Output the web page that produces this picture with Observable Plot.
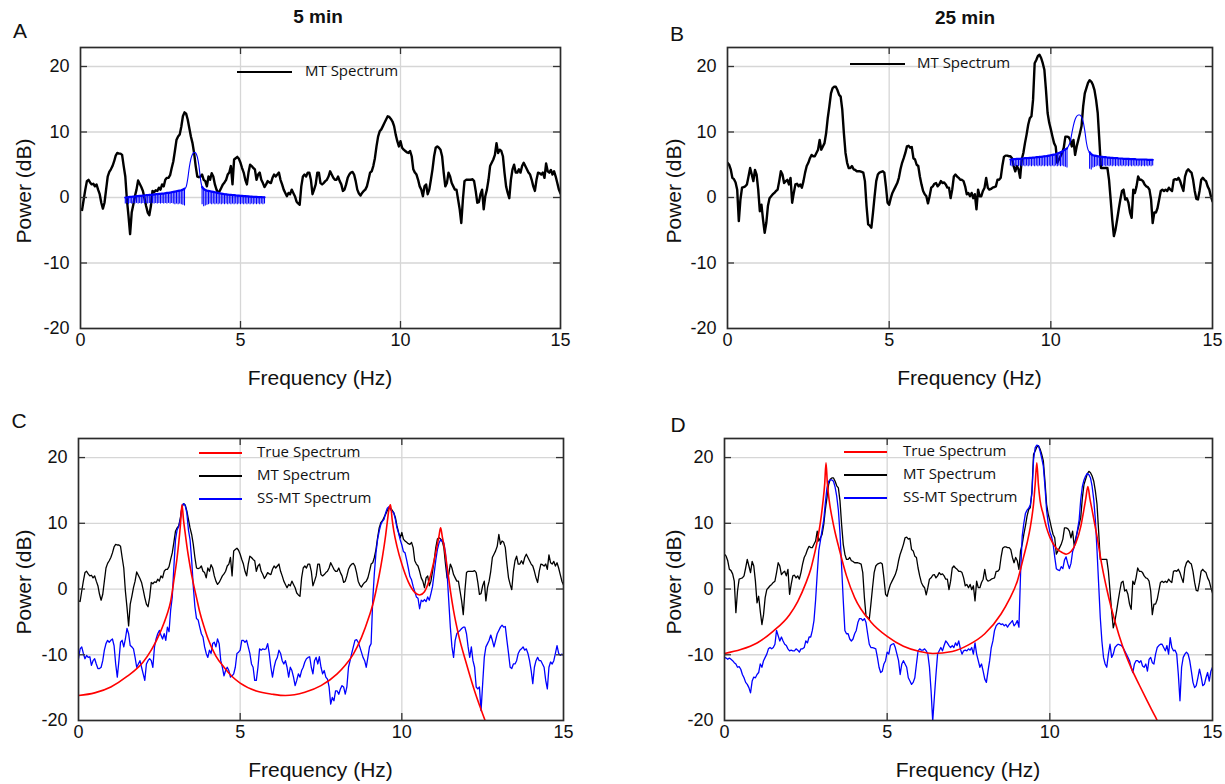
<!DOCTYPE html>
<html><head><meta charset="utf-8">
<script src="https://cdn.jsdelivr.net/npm/d3@7"></script>
<script src="https://cdn.jsdelivr.net/npm/@observablehq/plot@0.6"></script>
<style>
html,body{margin:0;padding:0;background:#fff;}
body{width:1225px;height:784px;position:relative;overflow:hidden;font-family:"Liberation Sans",Arial,sans-serif;color:#111;}
.abs{position:absolute;}
.title{font-weight:bold;font-size:19px;transform:translate(-50%,-50%);white-space:nowrap;}
.letter{font-size:21px;transform:translate(-50%,-50%);}
.xlab{font-size:21px;transform:translate(-50%,-50%);white-space:nowrap;}
.ylab{font-size:21px;transform:translate(-50%,-50%) rotate(-90deg);white-space:nowrap;}
.leg{font-family:"Liberation Sans Narrow","Open Sans",sans-serif;font-size:15px;transform:translateY(-50%);white-space:nowrap;color:#111;}
</style></head><body>
<script>
// ---------- data ----------
const xTicks = [0, 5, 10, 15];
const yTicks = [-20, -10, 0, 10, 20];
const freqGrid = d3.range(0, 1501, 5).map(d => d / 100); // 0..15 Hz, 0.05 Hz bins

// MT spectrum, 5 min (panels A and C)
const mt5 = [
-1.8,-1.9,-0.3,1.2,2.5,2.7,2.3,2.0,2.1,1.7,2.0,1.2,0.5,-0.8,-1.7,-0.8,1.2,3.2,3.9,4.3,
4.8,5.5,6.4,6.8,6.7,6.7,6.5,4.8,3.2,-0.3,-2.8,-5.6,-2.3,-1.1,0.2,1.2,2.6,2.1,1.6,1.0,
-0.1,-1.3,-2.3,-2.7,-1.3,1.0,0.8,1.1,1.0,1.5,1.2,2.0,1.7,2.7,3.0,3.0,3.4,4.5,5.5,7.1,
8.8,9.3,9.6,10.8,12.4,13.0,12.8,11.9,10.6,9.3,8.3,6.8,4.8,3.2,3.1,3.2,3.5,2.7,2.5,1.7,
3.2,2.7,3.7,3.2,2.0,1.2,0.7,1.0,1.5,2.0,2.3,2.7,3.5,3.8,4.8,2.0,5.8,6.0,6.2,5.9,
5.3,4.5,3.8,2.7,2.0,3.8,5.0,4.8,4.5,4.3,2.7,3.5,3.8,2.7,2.2,1.6,2.0,2.5,2.3,2.2,
3.0,3.5,3.2,3.5,3.8,2.7,2.0,1.2,0.7,0.2,0.7,0.5,1.2,0.7,0.2,-0.6,-0.9,-1.1,1.7,3.2,
3.5,3.2,3.8,3.8,2.7,0.5,1.2,2.0,3.8,3.8,2.2,2.0,2.2,2.5,2.7,3.2,4.0,3.5,3.0,2.7,
2.7,3.2,2.5,2.0,1.0,1.2,2.0,3.0,3.5,3.8,3.9,3.5,2.5,1.2,0.6,0.3,0.7,1.0,1.2,1.7,
2.7,3.8,4.0,4.8,6.0,7.8,9.3,10.1,10.4,10.9,11.4,11.9,12.4,12.3,12.0,11.6,10.9,9.6,8.6,7.8,
8.6,7.6,7.3,7.1,6.9,6.8,7.1,6.3,4.3,3.8,3.5,2.7,1.7,1.2,0.2,1.7,2.0,0.5,1.2,2.7,
4.3,6.3,7.6,7.8,7.6,7.3,6.3,3.8,1.7,2.2,3.8,3.2,2.2,1.7,1.2,1.2,-0.3,-1.8,-3.9,-0.3,
2.5,2.7,2.7,2.7,2.7,2.8,2.5,1.0,-0.8,-0.7,0.5,1.2,-1.8,0.2,1.2,2.7,4.8,5.3,5.8,6.5,
8.3,6.8,7.3,7.1,6.3,3.8,1.7,0.7,-0.1,2.7,4.3,5.0,3.8,3.8,4.3,3.8,4.8,5.3,4.8,4.3,
3.8,3.5,2.7,1.7,1.0,2.7,3.8,3.7,3.5,3.8,3.0,5.2,4.0,3.8,4.2,3.5,4.0,3.2,2.2,1.2,
0.6];

// MT spectrum, 25 min (panels B and D)
const mt25 = [
5.3,5.0,4.3,3.0,2.8,2.3,1.2,-3.6,-0.3,1.5,1.6,1.7,2.0,3.2,4.5,3.5,2.5,4.2,3.5,1.2,
-2.1,-1.1,-3.4,-5.4,-3.9,-1.3,-0.1,0.2,0.5,0.7,1.0,1.2,2.5,4.0,3.5,2.2,2.5,2.7,2.0,3.0,
-0.8,0.7,2.0,2.1,1.7,2.0,1.5,2.5,3.8,4.8,5.3,6.0,6.5,6.3,6.3,6.8,7.3,8.8,7.3,7.8,
8.3,9.8,12.1,13.9,15.9,16.7,16.9,16.9,16.4,15.7,15.4,13.4,9.8,6.8,5.3,4.5,4.5,4.8,4.3,4.2,
4.0,4.0,4.0,3.9,3.8,2.5,-1.3,-4.1,-4.3,-4.6,-2.3,0.2,2.5,3.5,3.8,3.9,4.0,3.8,1.7,-0.8,
-1.1,-0.1,0.7,1.2,1.7,2.2,3.0,4.3,5.3,6.0,6.8,7.8,7.9,7.6,7.7,6.0,5.8,5.0,4.8,3.2,
2.0,1.0,0.5,0.2,-0.9,0.2,1.5,1.7,2.1,2.2,1.7,2.0,2.5,2.2,2.3,2.0,1.5,1.5,-0.1,1.2,
3.2,3.5,3.2,3.0,2.7,2.7,2.5,1.7,0.5,0.7,0.2,0.7,-0.1,0.5,-1.8,1.2,0.2,0.2,1.0,1.5,
3.0,1.5,1.2,1.3,1.5,1.6,1.7,2.7,2.7,3.0,4.8,6.2,6.4,6.4,6.3,6.3,6.0,4.8,4.0,4.8,
4.3,3.0,5.8,6.8,8.3,9.6,11.1,12.1,12.4,14.9,20.5,21.0,21.6,21.8,21.3,20.5,19.5,16.4,12.9,11.4,
10.4,9.3,8.3,7.8,5.3,5.8,6.3,6.8,7.6,9.3,9.3,9.2,8.8,7.8,8.8,6.5,7.8,8.8,9.8,10.9,
13.9,15.9,16.7,17.5,17.9,17.7,17.2,16.4,14.9,12.9,8.8,4.5,4.5,4.5,4.5,4.5,2.7,-0.3,-3.4,-5.9,
-4.9,-3.4,-1.8,-0.3,1.0,1.2,-0.3,-0.1,-0.8,-2.3,-3.1,1.2,0.7,1.7,3.2,2.7,2.7,2.5,2.0,1.7,
1.6,1.2,-0.3,-3.9,-2.3,-2.3,-1.6,-0.3,1.0,1.2,1.0,1.2,1.0,1.5,1.2,1.0,2.7,2.8,2.7,3.0,
2.5,1.7,1.0,3.2,4.0,4.3,4.0,3.8,2.7,1.0,-0.2,-0.3,1.0,2.7,3.0,2.7,2.5,1.7,1.2,0.2,
-0.6];

// SS-MT spectrum, 5 min (panel C)
const ss5 = [
-10.6,-9.1,-8.8,-9.8,-10.6,-10.1,-10.4,-10.3,-11.6,-10.9,-10.6,-11.4,-12.1,-12.1,-11.9,-10.9,-9.3,-8.3,-7.8,-8.1,
-7.8,-7.6,-8.6,-11.4,-13.4,-10.9,-8.1,-7.8,-8.8,-7.6,-6.0,-6.8,-8.6,-8.8,-9.1,-10.4,-11.9,-11.4,-10.9,-11.9,
-12.9,-13.9,-11.4,-10.9,-10.6,-10.9,-11.9,-8.8,-7.6,-6.8,-6.3,-7.0,-7.6,-6.8,-7.8,-5.8,-6.5,-3.2,-1.2,3.4,
7.5,9.0,9.5,10.6,12.6,13.0,12.7,11.6,9.0,7.5,4.4,0.4,-2.7,-4.5,-4.7,-5.8,-6.8,-7.3,-8.8,-9.8,
-10.4,-9.3,-9.8,-8.3,-8.1,-8.8,-7.6,-8.3,-10.9,-11.9,-13.2,-12.4,-11.9,-12.4,-13.4,-13.2,-12.9,-11.9,-9.8,-9.6,
-9.3,-7.8,-7.8,-8.1,-7.8,-8.8,-9.8,-11.4,-11.9,-13.9,-13.9,-11.9,-9.1,-9.3,-9.1,-9.2,-9.1,-8.3,-9.8,-11.9,
-13.4,-11.9,-10.9,-10.4,-9.3,-9.8,-10.9,-11.4,-10.9,-11.9,-13.4,-11.9,-12.4,-13.4,-14.7,-13.9,-12.9,-13.4,-12.4,-11.9,
-11.1,-10.6,-10.4,-10.3,-11.9,-12.9,-10.9,-10.4,-11.4,-10.3,-11.9,-12.9,-12.4,-13.4,-13.7,-14.9,-17.5,-16.5,-17.0,-15.5,
-15.5,-16.0,-15.2,-14.7,-14.9,-16.0,-14.9,-11.9,-10.9,-9.8,-8.8,-7.8,-7.7,-8.1,-8.8,-9.6,-10.4,-10.9,-11.9,-10.4,
-8.8,-8.3,-1.7,2.4,5.5,7.5,8.8,9.8,10.3,10.6,11.6,12.3,12.5,12.1,11.8,11.6,10.6,9.3,8.5,7.5,
6.7,5.7,5.5,4.4,3.2,1.9,1.4,0.4,-0.4,-1.2,-1.4,-3.0,-1.7,-1.9,-1.6,-1.9,-1.2,-1.7,-0.7,0.4,
2.4,4.4,6.0,7.0,7.5,7.2,7.0,5.5,2.4,-1.7,-5.8,-8.8,-10.4,-7.8,-6.8,-6.5,-6.3,-6.0,-5.8,-5.8,
-6.8,-8.8,-10.4,-8.8,-10.9,-11.9,-14.9,-15.2,-14.9,-18.5,-14.4,-10.4,-8.8,-8.3,-7.8,-7.0,-7.8,-8.8,-7.8,-6.8,
-6.3,-5.8,-5.5,-5.8,-5.7,-7.8,-9.8,-11.9,-12.1,-11.4,-11.4,-10.9,-9.8,-9.3,-9.1,-8.8,-9.3,-9.1,-9.8,-10.9,
-12.4,-14.4,-11.9,-10.9,-10.4,-10.9,-10.9,-11.4,-11.9,-13.9,-15.2,-11.9,-11.1,-11.4,-10.9,-9.8,-8.6,-9.8,-10.1,-9.9,
-10.1];

// SS-MT spectrum, 25 min (panel D)
const ss25 = [
-10.4,-10.5,-10.7,-10.5,-10.7,-10.9,-11.2,-11.4,-11.9,-11.8,-12.2,-13.0,-13.5,-14.2,-14.5,-15.0,-15.8,-14.0,-13.4,-13.5,
-13.0,-12.7,-11.4,-11.9,-10.9,-10.4,-9.9,-9.1,-8.9,-9.1,-8.9,-8.4,-6.3,-7.1,-7.9,-7.3,-7.9,-8.4,-8.6,-9.1,
-9.4,-9.3,-9.4,-9.4,-9.1,-9.3,-9.6,-9.1,-9.1,-8.9,-7.9,-8.2,-7.3,-7.3,-6.3,-4.8,-1.7,2.3,5.9,7.4,
9.0,10.5,13.1,15.4,16.4,16.6,16.6,16.4,15.5,14.1,12.0,8.5,3.4,-1.7,-6.3,-6.8,-6.8,-7.6,-7.9,-7.6,
-6.8,-6.3,-5.1,-4.5,-4.5,-4.8,-4.5,-5.1,-6.8,-8.4,-8.9,-8.9,-9.0,-9.1,-10.4,-11.9,-12.7,-12.5,-11.4,-10.9,
-9.6,-9.9,-8.6,-8.4,-8.3,-8.9,-9.9,-10.9,-13.0,-11.4,-10.9,-11.4,-11.9,-13.5,-14.0,-14.5,-14.2,-13.5,-11.4,-9.4,
-9.1,-9.3,-9.3,-9.1,-9.4,-9.9,-11.9,-15.5,-20.1,-16.5,-13.0,-9.9,-9.4,-8.9,-9.4,-8.6,-7.9,-8.2,-8.6,-8.9,
-8.6,-8.9,-8.2,-8.6,-7.9,-9.1,-9.9,-9.4,-9.3,-9.4,-9.1,-9.3,-8.9,-9.9,-8.2,-9.9,-10.9,-11.9,-11.4,-12.5,
-13.7,-14.2,-12.5,-10.9,-8.9,-7.9,-6.3,-5.6,-5.3,-5.2,-5.4,-5.3,-5.6,-5.4,-5.8,-5.4,-5.1,-4.8,-5.6,-5.3,
-4.8,-5.8,2.3,8.0,10.0,11.5,12.0,12.3,12.8,14.6,19.7,21.5,21.9,21.8,21.0,19.9,18.7,15.6,12.0,10.0,
8.7,8.0,6.9,4.9,3.1,2.9,2.8,3.4,3.1,4.4,4.9,3.9,3.1,3.9,5.7,6.4,7.4,9.0,10.5,13.6,
15.6,16.6,17.2,17.6,17.4,16.9,15.6,13.6,10.5,5.9,0.8,-4.3,-7.9,-10.4,-11.4,-11.9,-9.9,-8.4,-10.4,-9.9,
-8.9,-8.6,-8.4,-8.5,-8.6,-8.9,-9.4,-9.9,-10.4,-10.9,-11.9,-12.7,-11.4,-10.9,-10.9,-11.2,-10.9,-11.7,-11.9,-11.4,
-12.5,-10.7,-10.4,-11.2,-11.4,-9.9,-8.9,-8.6,-8.4,-8.4,-8.9,-9.4,-8.6,-9.9,-7.4,-8.9,-9.4,-9.3,-9.9,-13.0,
-17.0,-11.9,-10.4,-9.9,-9.6,-9.9,-10.9,-12.5,-14.2,-15.0,-14.7,-13.5,-12.2,-13.3,-14.7,-14.5,-13.5,-12.7,-14.0,-12.5,
-11.9];

// True spectrum, 5 min (panel C)
const true5F = [0,0.5,1,1.5,2,2.25,2.5,2.65,2.75,2.85,2.95,3.05,3.1,3.15,3.2,3.25,3.3,3.35,3.45,3.55,3.65,3.75,3.9,4,4.25,4.5,4.75,5,5.5,6,6.4,7,7.5,8,8.25,8.5,8.75,9,9.1,9.2,9.3,9.4,9.5,9.55,9.6,9.65,9.7,9.75,9.85,10,10.2,10.4,10.55,10.7,10.85,11,11.1,11.15,11.2,11.25,11.3,11.4,11.5,11.6,11.75,12,12.25,12.5,12.65];
const true5P = [-16.2,-15.8,-14.9,-13.3,-11.1,-9.3,-6.9,-5.1,-3.7,-1.9,1.3,4.8,7.0,9.6,12.8,10.4,8.5,6.6,3.5,0.9,-1.3,-3.5,-6.0,-7.5,-10.2,-11.9,-13.3,-14.3,-15.5,-16.0,-16.2,-15.7,-14.7,-12.9,-11.6,-9.9,-7.4,-4.0,-2.4,-0.3,2.1,4.9,8.2,10.2,12.1,12.8,10.6,8.9,6.5,3.8,1.1,-0.5,-0.9,-0.4,1.4,4.4,6.8,8.1,9.3,8.0,6.7,3.4,-0.2,-3.3,-6.9,-11.4,-15.5,-19.0,-21.0];

// True spectrum, 25 min (panel D)
const true25F = [0,0.5,1,1.5,2,2.25,2.5,2.65,2.75,2.85,2.95,3.02,3.08,3.12,3.16,3.22,3.3,3.4,3.5,3.75,4,4.5,5,5.5,6,6.4,7,7.5,8,8.5,8.75,9,9.2,9.3,9.4,9.45,9.5,9.55,9.6,9.65,9.7,9.8,9.9,10,10.2,10.4,10.5,10.65,10.8,10.95,11.03,11.1,11.17,11.23,11.3,11.45,11.6,11.75,12,12.25,12.5,12.75,13,13.25,13.4];
const true25P = [-9.8,-9.2,-8.2,-6.4,-3.9,-1.9,0.9,3.0,5.0,7.3,10.2,13.0,16.0,19.2,16.2,13.4,11.0,8.6,6.6,2.0,-1.3,-5.0,-7.2,-8.7,-9.5,-9.8,-9.5,-8.5,-6.8,-3.8,-1.6,1.2,5.0,7.0,9.4,11.0,13.0,16.0,19.2,15.8,13.5,11.3,9.3,7.9,6.2,5.5,5.3,5.7,7.0,9.5,11.6,13.6,15.6,13.8,12.0,8.0,3.6,0.0,-4.9,-8.9,-12.0,-14.6,-17.1,-19.5,-21.0];

// blue estimate bands in A and B (upper edge and lower teeth)
const fan5Freq = d3.range(140, 576, 5).map(d => d / 100);
const fan5Top = [
0.0,0.0,0.05,0.1,0.1,0.15,0.15,0.2,0.2,0.25,0.25,0.3,
0.3,0.35,0.35,0.4,0.4,0.45,0.45,0.5,0.5,0.55,0.55,0.6,0.6,0.65,0.7,0.7,0.75,0.8,0.85,0.9,
0.95,1.0,1.05,1.1,1.2,1.35,1.6,2.8,4.6,5.9,6.6,6.9,6.8,6.2,4.9,2.8,1.6,1.3,1.15,1.05,
1.0,0.95,0.9,0.85,0.8,0.75,0.7,0.65,0.6,0.55,0.5,0.48,0.45,0.42,0.4,0.38,0.35,0.32,0.3,0.28,
0.26,0.24,0.22,0.2,0.18,0.16,0.14,0.12,0.1,0.09,0.08,0.07,0.06,0.05,0.04,0.03];
const fan5Low = [
-1.0,-0.9,-1.1,-0.9,-1.0,-0.9,-1.0,-0.9,-1.0,-0.9,-1.0,-0.9,
-1.0,-0.9,-1.0,-0.9,-1.0,-0.9,-1.0,-0.9,-1.0,-0.9,-1.0,-0.9,-1.0,-0.9,-1.0,-0.9,-1.0,-0.9,-1.0,-1.1,
-1.0,-1.1,-1.0,-1.1,-1.2,-1.3,null,null,null,null,null,null,null,null,null,null,-1.1,-1.4,-1.3,-1.2,
-1.1,-1.0,-1.1,-1.0,-1.1,-1.0,-1.1,-1.0,-1.1,-1.0,-1.1,-1.0,-1.1,-1.0,-1.1,-1.0,-1.1,-1.0,-1.1,-1.0,
-1.1,-1.0,-1.1,-1.0,-1.1,-1.0,-1.1,-1.0,-1.1,-1.0,-1.1,-1.0,-1.1,-1.0,-1.1,-1.0];
const fan25Freq = d3.range(875, 1316, 5).map(d => d / 100);
const fan25Top = [
5.8,5.8,5.85,5.85,5.9,
5.9,5.9,5.95,5.95,6.0,6.0,6.0,6.05,6.05,6.1,6.1,6.15,6.15,6.2,6.2,6.25,6.3,6.3,6.35,6.4,
6.45,6.5,6.55,6.6,6.7,6.8,6.9,7.0,7.2,7.35,7.5,7.9,8.5,9.8,11.0,11.9,12.4,12.6,12.6,12.3,
11.6,10.2,8.4,7.3,6.9,6.6,6.45,6.4,6.35,6.3,6.25,6.2,6.2,6.15,6.15,6.1,6.1,6.05,6.05,6.0,
6.0,6.0,5.95,5.95,5.95,5.9,5.9,5.9,5.9,5.85,5.85,5.85,5.85,5.8,5.8,5.8,5.8,5.8,5.8,5.8,
5.75,5.75,5.75,5.75];
const fan25Low = [
4.8,4.7,4.8,4.7,4.8,
4.7,4.8,4.7,4.8,4.7,4.8,4.7,4.8,4.7,4.8,4.7,4.8,4.7,4.8,4.7,4.8,4.7,4.8,4.7,4.8,
4.7,4.8,4.7,4.8,4.7,4.8,4.7,4.8,4.7,4.6,4.5,null,null,null,null,null,null,null,null,null,
null,null,null,null,4.3,4.2,4.5,4.6,4.7,4.8,4.7,4.8,4.7,4.8,4.7,4.8,4.7,4.8,4.7,4.8,
4.7,4.8,4.7,4.8,4.7,4.8,4.7,4.8,4.7,4.8,4.7,4.8,4.7,4.8,4.7,4.8,4.7,4.8,4.7,4.8,
4.7,4.8,4.7,4.8];

const BLUE = "#0000ff", RED = "#ff0000", BLACK = "#000000";

// ---------- helpers ----------
function el(tag, cls, text, css) {
  const e = document.createElement(tag);
  if (cls) e.className = cls;
  if (text != null) e.textContent = text;
  Object.assign(e.style, css || {});
  document.body.appendChild(e);
  return e;
}
function lineOf(freq, vals, stroke, strokeWidth, curve = "linear") {
  return Plot.line(freq, {x: d => d, y: (d, i) => vals[i], stroke, strokeWidth, curve, clip: true, strokeLinejoin: "round"});
}
function fanMarks(freq, top, low) {
  const idx = d3.range(freq.length).filter(i => low[i] != null);
  return [
    Plot.ruleX(idx, {x: i => freq[i], y1: i => top[i], y2: i => low[i], stroke: BLUE, strokeWidth: 1.1}),
    Plot.line(freq, {x: d => d, y: (d, i) => top[i], stroke: BLUE, strokeWidth: 1.1, curve: "monotone-x"}),
    Plot.line(freq, {x: d => d, y: (d, i) => low[i] == null ? NaN : top[i], stroke: BLUE, strokeWidth: 2.2})
  ];
}
function panel(cfg) {
  const {left, top, width, height, mL, mR, mT, mB, marks} = cfg;
  const iw = width - mL - mR, ih = height - mT - mB;
  const inY = [-10, 0, 10, 20], inX = [5, 10];
  const svg = Plot.plot({
    width, height,
    marginLeft: mL, marginRight: mR, marginTop: mT, marginBottom: mB,
    x: {domain: [0, 15]},
    y: {domain: [-20, 22.9]},
    style: {fontFamily: '"Liberation Sans", Arial, sans-serif', fontSize: "18px", color: "#111", background: "transparent", overflow: "visible"},
    marks: [
      Plot.gridX(inX, {stroke: "#d6d6d6", strokeOpacity: 1, strokeWidth: 1.3}),
      Plot.gridY(inY, {stroke: "#d6d6d6", strokeOpacity: 1, strokeWidth: 1.3}),
      ...marks,
      Plot.ruleY(inY, {insetRight: iw - 7, stroke: "#333", strokeWidth: 1.3}),
      Plot.ruleY(inY, {insetLeft: iw - 7, stroke: "#333", strokeWidth: 1.3}),
      Plot.ruleX(inX, {insetTop: ih - 7, stroke: "#333", strokeWidth: 1.3}),
      Plot.ruleX(inX, {insetBottom: ih - 7, stroke: "#333", strokeWidth: 1.3}),
      Plot.frame({stroke: "#2b2b2b", strokeWidth: 1.7}),
      Plot.axisX(xTicks, {tickSize: 0, tickPadding: 5, tickFormat: d => String(d), label: null}),
      Plot.axisY(yTicks, {tickSize: 0, tickPadding: 11, tickFormat: d => String(d), label: null})
    ]
  });
  svg.style.position = "absolute";
  svg.style.left = left + "px";
  svg.style.top = top + "px";
  document.body.appendChild(svg);
  // axis titles
  el("div", "abs xlab", "Frequency (Hz)", {left: (left + mL + iw / 2) + "px", top: (top + height - 14) + "px"});
  el("div", "abs ylab", "Power (dB)", {left: (cfg.ylabX) + "px", top: (top + mT + ih / 2 + 3) + "px"});
}
function legend(items, x0, x1, xt, ys, lw) {
  items.forEach(([label, color], k) => {
    el("div", "abs", null, {left: x0 + "px", width: (x1 - x0) + "px", top: (ys[k] - lw / 2) + "px", height: lw + "px", background: color});
    el("div", "abs leg", label, {left: xt + "px", top: (ys[k] - 2) + "px"});
  });
}

// ---------- panels ----------
panel({left: 0, top: 0, width: 600, height: 392, mL: 80, mR: 40, mT: 47, mB: 64, ylabX: 24,
  marks: [lineOf(freqGrid, mt5, BLACK, 2.4), ...fanMarks(fan5Freq, fan5Top, fan5Low)]});
panel({left: 610, top: 0, width: 615, height: 392, mL: 117, mR: 13, mT: 47, mB: 64, ylabX: 674,
  marks: [lineOf(freqGrid, mt25, BLACK, 2.4), ...fanMarks(fan25Freq, fan25Top, fan25Low)]});
panel({left: 0, top: 392, width: 600, height: 392, mL: 78, mR: 37, mT: 46, mB: 64, ylabX: 24,
  marks: [lineOf(freqGrid, mt5, BLACK, 1.3), lineOf(freqGrid, ss5, BLUE, 1.3), lineOf(true5F, true5P, RED, 1.6, "monotone-x")]});
panel({left: 610, top: 392, width: 615, height: 392, mL: 114, mR: 13, mT: 46, mB: 64, ylabX: 674,
  marks: [lineOf(freqGrid, mt25, BLACK, 1.3), lineOf(freqGrid, ss25, BLUE, 1.3), lineOf(true25F, true25P, RED, 1.6, "monotone-x")]});

// titles and panel letters
el("div", "abs title", "5 min", {left: "318px", top: "17px"});
el("div", "abs title", "25 min", {left: "965px", top: "18px"});
el("div", "abs letter", "A", {left: "20px", top: "31px"});
el("div", "abs letter", "B", {left: "677px", top: "34px"});
el("div", "abs letter", "C", {left: "19px", top: "421px"});
el("div", "abs letter", "D", {left: "678px", top: "425px"});

// legends
legend([["MT Spectrum", BLACK]], 237, 292, 305, [72], 2.6);
legend([["MT Spectrum", BLACK]], 850, 905, 917, [64], 2.6);
legend([["True Spectrum", RED], ["MT Spectrum", BLACK], ["SS-MT Spectrum", BLUE]], 199, 242, 257, [453, 476, 499], 2.2);
legend([["True Spectrum", RED], ["MT Spectrum", BLACK], ["SS-MT Spectrum", BLUE]], 844, 887, 903, [452, 475, 498], 2.2);
</script>
</body></html>
